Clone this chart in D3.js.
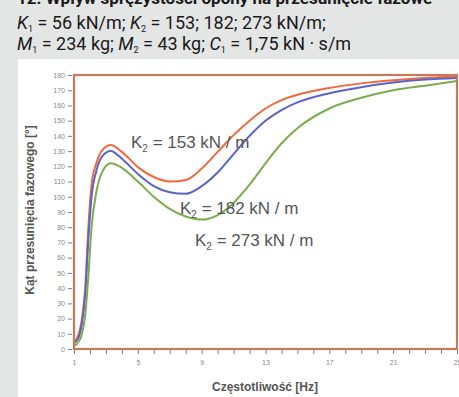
<!DOCTYPE html>
<html>
<head>
<meta charset="utf-8">
<script src="https://cdn.jsdelivr.net/npm/d3@7"></script>
<style>
  body { margin: 0; background: #e4e5e5; }
  svg { display: block; }
</style>
</head>
<body>
<svg width="459" height="397"></svg>
<script>
// frequencies [Hz] at which the phase angle was read
var freq = [1, 1.3, 1.5, 1.7, 1.9, 2.1, 2.4, 2.8, 3.3, 4, 5, 6, 7, 8, 9, 10, 11, 12, 13, 14, 15, 17, 19, 21, 23, 25];

var k153 = [4, 10, 20, 40, 80, 108, 122, 131, 134, 129.5, 119.5, 113, 110, 111, 118.5, 129.5, 140.5, 150, 158, 163.5, 167, 171.5, 174.5, 176.5, 178, 179];
var k182 = [4, 8, 17, 35, 72, 100, 117, 127, 130, 125, 115, 107, 103, 102, 107, 116, 128, 140, 150, 157, 162, 168, 172, 175, 177, 178];
var k273 = [2, 5, 10, 22, 48, 80, 103, 117, 122, 119, 110, 100, 92, 87, 85, 88, 96, 108, 122, 135, 145, 158, 165, 170, 173, 176];

var seriesNames = ["153", "182", "273"];
var seriesColors = ["#f0693c", "#5a63c8", "#7aad4a"];

var yTicks = d3.range(0, 181, 10);
var xTicks = d3.range(1, 26, 1);
var xLabels = [1, 5, 9, 13, 17, 21, 25];

var svg = d3.select("svg");

// white panel
svg.append("rect")
  .attr("x", 18).attr("y", 59)
  .attr("width", 441).attr("height", 338)
  .attr("fill", "#ffffff");

// header text
var head = svg.append("g")
  .style("font-family", "Roboto, 'Liberation Sans', sans-serif")
  .style("fill", "#1a1a1a");

head.append("text")
  .attr("x", 17).attr("y", 4)
  .style("font-size", "17px")
  .style("font-weight", "bold")
  .text("12. Wpływ sprężystości opony na przesunięcie fazowe");

function headLine(y, parts){
  var t = head.append("text").attr("x", 17).attr("y", y).style("font-size", "18px");
  parts.forEach(function(p){
    var s = t.append("tspan").text(p[0]);
    if (p[1] == "i") s.style("font-style", "italic");
    if (p[1] == "sub") s.attr("dy", 3).style("font-size", "9px");
    if (p[2]) s.attr("dy", p[2]);
  });
}

headLine(29, [["K", "i"], ["1", "sub"], [" = 56 kN/m; ", "", -3], ["K", "i"], ["2", "sub"], [" = 153; 182; 273 kN/m;", "", -3]]);
headLine(50, [["M", "i"], ["1", "sub"], [" = 234 kg; ", "", -3], ["M", "i"], ["2", "sub"], [" = 43 kg; ", "", -3], ["C", "i"], ["1", "sub"], [" = 1,75 kN · s/m", "", -3]]);

var margin = {left: 74, top: 75, right: 457, bottom: 349};

var x = d3.scaleLinear().domain([1, 25]).range([margin.left, margin.right]);
var y = d3.scaleLinear().domain([0, 180]).range([margin.bottom, margin.top]);

var g = svg.append("g");

// y axis ticks + labels
var y_axis = g.append("g")
  .attr("transform", "translate(" + (margin.left - 2) + ",0)")
  .call(d3.axisLeft(y).tickValues(yTicks).tickSize(4).tickPadding(3));
y_axis.select(".domain").remove();
y_axis.selectAll("line").attr("stroke", "#7a7f99");
y_axis.selectAll("text")
  .style("font-family", "'Liberation Sans Narrow', Arial, sans-serif")
  .style("font-size", "7px")
  .style("fill", "#888");

// x axis ticks + labels
var x_axis = g.append("g")
  .attr("transform", "translate(0," + (margin.bottom + 1) + ")")
  .call(d3.axisBottom(x).tickValues(xTicks).tickSize(4).tickPadding(6)
    .tickFormat(function(d){ return xLabels.indexOf(d) >= 0 ? d : ""; }));
x_axis.select(".domain").remove();
x_axis.selectAll("line").attr("stroke", "#7a7f99");
x_axis.selectAll("text")
  .style("font-family", "'Liberation Sans Narrow', Arial, sans-serif")
  .style("font-size", "7px")
  .style("fill", "#888");

// curves
var line = d3.line()
  .x(function(d){ return x(d[0]); })
  .y(function(d){ return y(d[1]); })
  .curve(d3.curveMonotoneX);

[k153, k182, k273].forEach(function(vals, i){
  g.append("path")
    .datum(freq.map(function(f, j){ return [f, vals[j]]; }))
    .attr("fill", "none")
    .attr("stroke", seriesColors[i])
    .attr("stroke-width", 2)
    .attr("d", line);
});

// frame
g.append("rect")
  .attr("x", margin.left).attr("y", margin.top)
  .attr("width", margin.right - margin.left)
  .attr("height", margin.bottom - margin.top)
  .attr("fill", "none")
  .attr("stroke", "#c87a58")
  .attr("stroke-width", 2.2);

// series labels
var labelPos = [[131, 148], [180, 214], [195, 246]];
seriesNames.forEach(function(n, i){
  var t = g.append("text")
    .attr("x", labelPos[i][0]).attr("y", labelPos[i][1])
    .style("font-family", "Arial, 'Liberation Sans', sans-serif")
    .style("font-size", "17px")
    .style("fill", "#555");
  t.append("tspan").text("K");
  t.append("tspan").attr("dy", 4).style("font-size", "10px").text("2");
  t.append("tspan").attr("dy", -4).text(" = " + n + " kN / m");
});

// axis titles
g.append("text")
  .attr("x", 265).attr("y", 391)
  .attr("text-anchor", "middle")
  .style("font-family", "Arial, 'Liberation Sans', sans-serif")
  .style("font-size", "12px")
  .style("font-weight", "bold")
  .style("fill", "#555")
  .text("Częstotliwość [Hz]");

g.append("text")
  .attr("transform", "translate(34,210) rotate(-90)")
  .attr("text-anchor", "middle")
  .style("font-family", "Arial, 'Liberation Sans', sans-serif")
  .style("font-size", "12px")
  .style("font-weight", "bold")
  .style("fill", "#555")
  .text("Kąt przesunięcia fazowego [°]");
</script>
</body>
</html>
